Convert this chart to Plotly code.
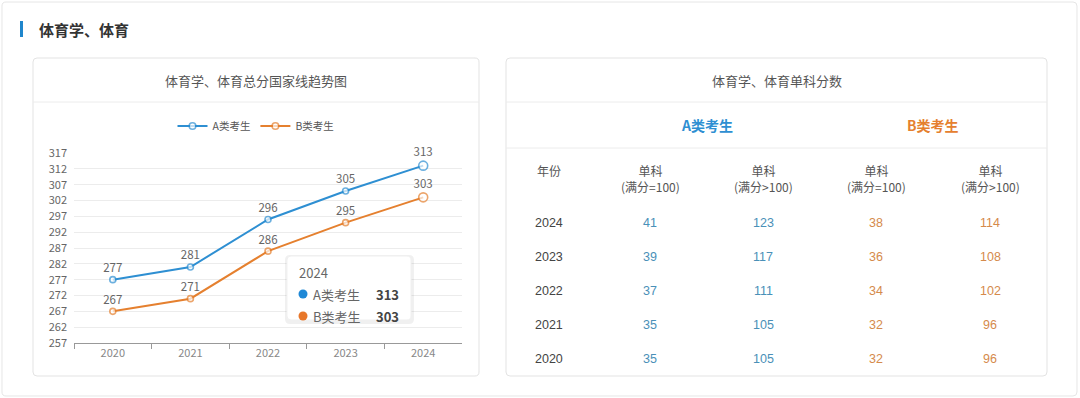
import plotly.graph_objects as go

W, H = 1080, 398

# ---------------- data ----------------
years = ["2020", "2021", "2022", "2023", "2024"]
total_a = [277, 281, 296, 305, 313]
total_b = [267, 271, 286, 295, 303]
y_ticks = [257, 262, 267, 272, 277, 282, 287, 292, 297, 302, 307, 312, 317]

series_names = ["A类考生", "B类考生"]

table_years = ["2024", "2023", "2022", "2021", "2020"]
a_single_100 = [41, 39, 37, 35, 35]
a_single_gt100 = [123, 117, 111, 105, 105]
b_single_100 = [38, 36, 34, 32, 32]
b_single_gt100 = [114, 108, 102, 96, 96]
col_headers = ["年份", "单科<br>(满分=100)", "单科<br>(满分>100)", "单科<br>(满分=100)", "单科<br>(满分>100)"]

page_title = "体育学、体育"
left_title = "体育学、体育总分国家线趋势图"
right_title = "体育学、体育单科分数"

# ---------------- styles ----------------
BLUE = "#2e8fd2"
ORANGE = "#e5802f"
BLUE_T = "#4a90b8"
ORANGE_T = "#d58a4c"
CJK = "Noto Sans CJK SC"


def px(x):
    return x / W


def py(y):
    return 1 - y / H


def rrect(x0, y0, x1, y1, r):
    pts = [
        ("M", [(x0 + r, y0)]),
        ("L", [(x1 - r, y0)]),
        ("Q", [(x1, y0), (x1, y0 + r)]),
        ("L", [(x1, y1 - r)]),
        ("Q", [(x1, y1), (x1 - r, y1)]),
        ("L", [(x0 + r, y1)]),
        ("Q", [(x0, y1), (x0, y1 - r)]),
        ("L", [(x0, y0 + r)]),
        ("Q", [(x0, y0), (x0 + r, y0)]),
    ]
    s = ""
    for cmd, ps in pts:
        s += cmd + " " + " ".join(f"{px(a):.5f},{py(b):.5f}" for a, b in ps) + " "
    return s + "Z"


fig = go.Figure()

sizes = [6] * (len(years) - 1) + [9]
for name, vals, col in [(series_names[0], total_a, BLUE), (series_names[1], total_b, ORANGE)]:
    fig.add_trace(go.Scatter(
        x=years, y=vals, name=name,
        mode="lines+markers+text",
        text=[str(v) for v in vals],
        textposition="top center",
        textfont=dict(size=11.5, color="#666", family=CJK),
        line=dict(color=col, width=2),
        marker=dict(size=sizes, color="white", line=dict(color=col, width=1.6), symbol="circle"),
        cliponaxis=False,
    ))

shapes = []
annotations = []

# outer card
shapes.append(dict(type="path", path=rrect(2, 2, 1077, 396, 4), xref="paper", yref="paper",
                   line=dict(color="#e6e6e6", width=1), fillcolor="white", layer="below"))
# title bar
shapes.append(dict(type="rect", x0=px(20), x1=px(23), y0=py(21), y1=py(37), xref="paper", yref="paper",
                   fillcolor="#1f86cc", line=dict(width=0)))
annotations.append(dict(text=f"<b>{page_title}</b>", x=px(37), y=py(30), xref="paper", yref="paper",
                        xanchor="left", yanchor="middle", showarrow=False,
                        font=dict(size=15, color="#333", family=CJK)))

# panels
for (x0, x1) in [(33, 479), (506, 1047)]:
    shapes.append(dict(type="path", path=rrect(x0, 58, x1, 376, 4), xref="paper", yref="paper",
                       line=dict(color="#e3e3e3", width=1), fillcolor="rgba(0,0,0,0)", layer="below"))
    shapes.append(dict(type="line", x0=px(x0), x1=px(x1), y0=py(102), y1=py(102), xref="paper", yref="paper",
                       line=dict(color="#ececec", width=1)))
annotations.append(dict(text=left_title, x=px(256), y=py(80), xref="paper", yref="paper",
                        xanchor="center", yanchor="middle", showarrow=False,
                        font=dict(size=13, color="#555", family=CJK)))
annotations.append(dict(text=right_title, x=px(777), y=py(80), xref="paper", yref="paper",
                        xanchor="center", yanchor="middle", showarrow=False,
                        font=dict(size=13, color="#555", family=CJK)))
shapes.append(dict(type="line", x0=px(506), x1=px(1047), y0=py(148), y1=py(148), xref="paper", yref="paper",
                   line=dict(color="#ececec", width=1)))

# table
col_x = [549, 650, 763, 876, 990]
annotations.append(dict(text=f"<b>{series_names[0]}</b>", x=px((col_x[1] + col_x[2]) / 2), y=py(125),
                        xref="paper", yref="paper", xanchor="center", yanchor="middle", showarrow=False,
                        font=dict(size=14, color=BLUE, family=CJK)))
annotations.append(dict(text=f"<b>{series_names[1]}</b>", x=px((col_x[3] + col_x[4]) / 2), y=py(125),
                        xref="paper", yref="paper", xanchor="center", yanchor="middle", showarrow=False,
                        font=dict(size=14, color=ORANGE, family=CJK)))
for i, h in enumerate(col_headers):
    annotations.append(dict(text=h, x=px(col_x[i]), y=py(160), xref="paper", yref="paper",
                            xanchor="center", yanchor="top", showarrow=False, align="center",
                            font=dict(size=12, color="#555", family=CJK)))
row_y0, row_dy = 223, 34
cols = [(table_years, "#444"), (a_single_100, BLUE_T), (a_single_gt100, BLUE_T),
        (b_single_100, ORANGE_T), (b_single_gt100, ORANGE_T)]
for ci, (vals, colr) in enumerate(cols):
    for ri, v in enumerate(vals):
        annotations.append(dict(text=str(v), x=px(col_x[ci]), y=py(row_y0 + ri * row_dy),
                                xref="paper", yref="paper", xanchor="center", yanchor="middle",
                                showarrow=False, font=dict(size=12.5, color=colr, family="Liberation Sans, " + CJK)))

# axis pointer
shapes.append(dict(type="line", x0=years[-1], x1=years[-1], y0=0, y1=1, xref="x", yref="y domain",
                   line=dict(color="#cfcfcf", width=1, dash="dash"), layer="below"))

# tooltip
tx0, ty0, tx1, ty1 = 287, 256, 411, 320
shapes.append(dict(type="path", path=rrect(tx0 - 2, ty0 - 1, tx1 + 3, ty1 + 4, 5), xref="paper", yref="paper",
                   line=dict(width=0), fillcolor="rgba(0,0,0,0.06)", layer="above"))
shapes.append(dict(type="path", path=rrect(tx0, ty0, tx1, ty1, 4), xref="paper", yref="paper",
                   line=dict(color="#f0f0f0", width=1), fillcolor="white", layer="above"))
annotations.append(dict(text=years[-1], x=px(297), y=py(272), xref="paper", yref="paper",
                        xanchor="left", yanchor="middle", showarrow=False,
                        font=dict(size=13, color="#666", family=CJK)))
for k, (name, val, col) in enumerate([(series_names[0], total_a[-1], "#1f88d6"),
                                      (series_names[1], total_b[-1], "#e8772a")]):
    yy = 294 + k * 22
    shapes.append(dict(type="circle", x0=px(298.5), x1=px(307.5), y0=py(yy - 4.5), y1=py(yy + 4.5),
                       xref="paper", yref="paper", fillcolor=col, line=dict(width=0), layer="above"))
    annotations.append(dict(text=name, x=px(311), y=py(yy), xref="paper", yref="paper",
                            xanchor="left", yanchor="middle", showarrow=False,
                            font=dict(size=13, color="#666", family=CJK)))
    annotations.append(dict(text=f"<b>{val}</b>", x=px(401), y=py(yy), xref="paper", yref="paper",
                            xanchor="right", yanchor="middle", showarrow=False,
                            font=dict(size=13, color="#444", family=CJK)))

fig.update_layout(
    width=W, height=H, autosize=False,
    margin=dict(l=0, r=0, t=0, b=0, pad=0, autoexpand=False),
    paper_bgcolor="white", plot_bgcolor="white",
    hovermode=False,
    shapes=shapes, annotations=annotations,
    font=dict(family=CJK, color="#666"),
    legend=dict(orientation="h", x=px(256), xanchor="center", y=py(126), yanchor="middle",
                font=dict(size=10.5, color="#555", family=CJK), bgcolor="rgba(0,0,0,0)",
                itemwidth=30, tracegroupgap=0),
    xaxis=dict(domain=[px(74), px(462)], type="category", range=[-0.5, len(years) - 0.5],
               showgrid=False, showline=True, linecolor="#999", linewidth=1, automargin=False,
               ticks="outside", tickson="boundaries", ticklen=5, tickcolor="#999",
               tickfont=dict(size=11, color="#888", family=CJK), zeroline=False, fixedrange=True),
    yaxis=dict(domain=[py(343), py(153)], range=[y_ticks[0], y_ticks[-1]], automargin=False,
               tickvals=y_ticks, showgrid=True, gridcolor="#ececec", gridwidth=1,
               showline=False, zeroline=False, ticks="", ticklabelstandoff=6,
               tickfont=dict(size=11, color="#666", family=CJK), fixedrange=True),
)

post = ("document.documentElement.style.margin='0';document.documentElement.style.padding='0';"
        "document.documentElement.style.overflow='hidden';"
        "document.body.style.margin='0';document.body.style.padding='0';document.body.style.overflow='hidden';")
fig.write_html("out.html", config={"displayModeBar": False}, post_script=post)
